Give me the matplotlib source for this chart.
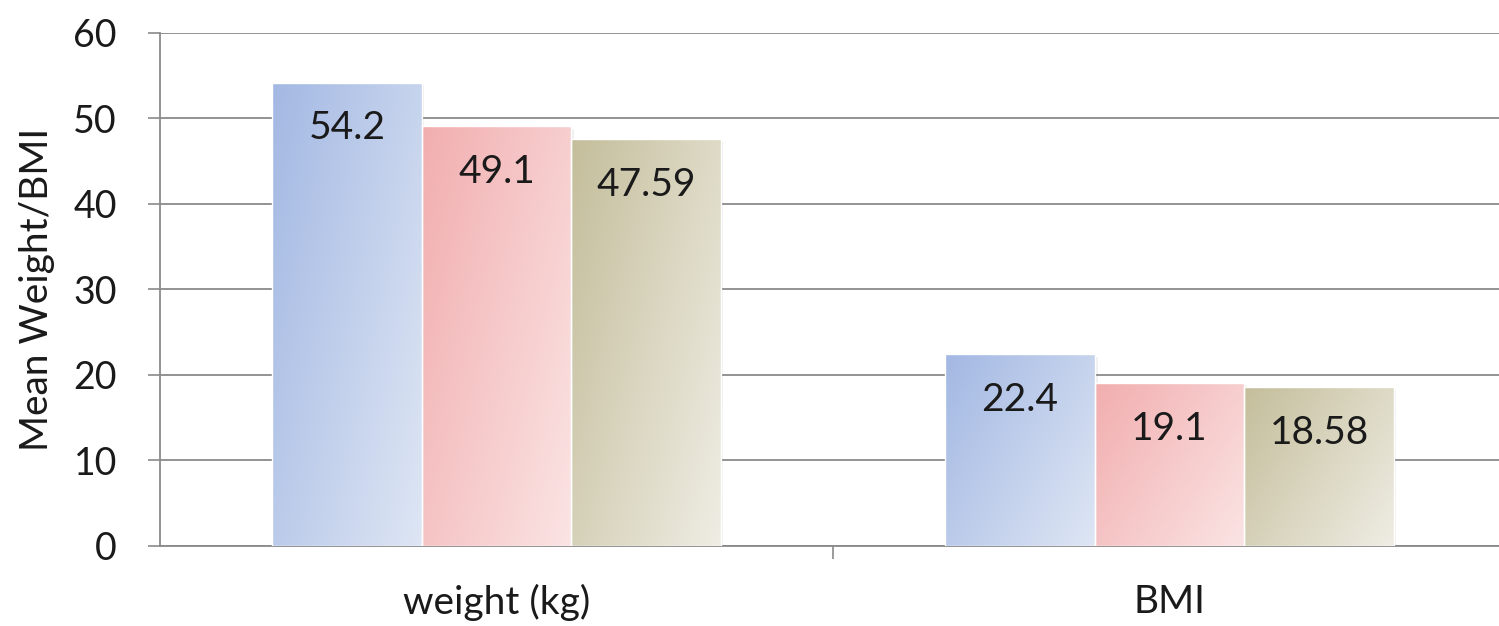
import numpy as np
import matplotlib
matplotlib.use("Agg")
import matplotlib.pyplot as plt
from matplotlib.colors import LinearSegmentedColormap
from matplotlib.patches import Rectangle

categories = ["weight (kg)", "BMI"]
group_a = [54.2, 22.4]
group_b = [49.1, 19.1]
group_c = [47.59, 18.58]
series = [group_a, group_b, group_c]
series_labels = [["54.2", "22.4"], ["49.1", "19.1"], ["47.59", "18.58"]]
y_ticks = [0, 10, 20, 30, 40, 50, 60]

# dark (top-left) -> light (bottom-right) fill for each series
gradients = [("#A3B8E3", "#DEE6F4"), ("#F2AEAF", "#FBE4E4"), ("#C4BE9B", "#EFEDE4")]

plt.rcParams["font.family"] = ["Lato", "DejaVu Sans"]

fig = plt.figure(figsize=(14.99, 6.26), dpi=100)
ax = fig.add_axes([0.1067, 0.1278, 0.898, 0.8195])

x = np.arange(len(categories))
width = 0.222
offsets = [-width, 0.0, width]

yy, xx = np.mgrid[0:1:200j, 0:1:200j]
t = 0.6 * xx + 0.4 * yy  # row 0 is top of the bar in imshow (origin upper)

for vals, labels, off, (c0, c1) in zip(series, series_labels, offsets, gradients):
    cmap = LinearSegmentedColormap.from_list("g", [c0, c1])
    bars = ax.bar(x + off, vals, width, color="none", edgecolor="none", zorder=3)
    for rect, lab in zip(bars, labels):
        x0, y0 = rect.get_x(), rect.get_y()
        w, h = rect.get_width(), rect.get_height()
        # soft shadow on the right side
        shadow = Rectangle((x0 + 0.004, y0), w, h - 0.3, facecolor="#000000",
                           alpha=0.06, edgecolor="none", zorder=2.5)
        ax.add_patch(shadow)
        im = ax.imshow(t, cmap=cmap, extent=[x0, x0 + w, y0, y0 + h],
                       origin="upper", aspect="auto", zorder=3, interpolation="bilinear")
        clip = Rectangle((x0, y0), w, h, transform=ax.transData, facecolor="none")
        im.set_clip_path(clip)
        edge = Rectangle((x0, y0), w, h, facecolor="none", edgecolor="white",
                         linewidth=1.0, zorder=3.5)
        ax.add_patch(edge)
        ax.annotate(lab, (x0 + w / 2, y0 + h), xytext=(0, -33), textcoords="offset points",
                    ha="center", va="center", fontsize=28, color="#1a1a1a", zorder=5)

ax.set_xlim(-0.5, 1.5)
ax.set_ylim(0, 60)
ax.set_yticks(y_ticks)
ax.set_yticklabels([str(v) for v in y_ticks])
ax.yaxis.grid(True, color="#8a8a8a", linewidth=1.3, zorder=1)
ax.set_axisbelow(True)

ax.set_xticks([0.5])
ax.set_xticklabels([""])
ax.tick_params(axis="x", length=9, width=1.2, color="#8a8a8a")
ax.tick_params(axis="y", length=9, width=1.2, color="#8a8a8a", labelsize=27, pad=22,
               labelcolor="#1a1a1a")
for i, c in enumerate(categories):
    ax.text(x[i], -6.6, c, ha="center", va="center", fontsize=28, color="#1a1a1a")

for s in ["top", "right"]:
    ax.spines[s].set_visible(False)
for s in ["left", "bottom"]:
    ax.spines[s].set_color("#8a8a8a")
    ax.spines[s].set_linewidth(1.3)

ax.set_ylabel("Mean Weight/BMI", fontsize=28, color="#1a1a1a")
ax.yaxis.set_label_coords(-0.078, 0.5)

fig.savefig("out.png", dpi=100)
